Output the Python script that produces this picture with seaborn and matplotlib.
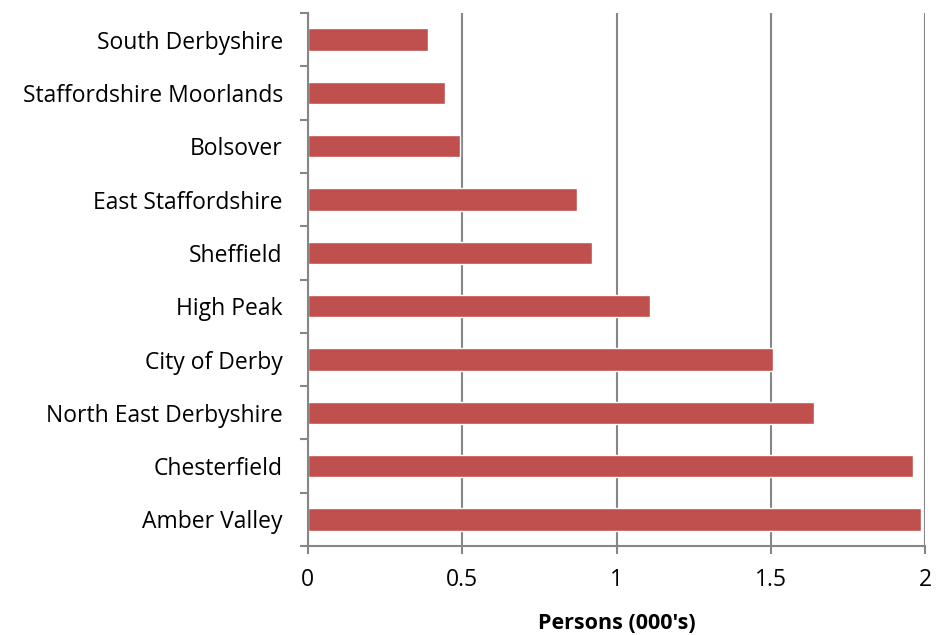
import numpy as np
import pandas as pd
import matplotlib
matplotlib.use('Agg')
import matplotlib.pyplot as plt
import seaborn as sns

# data
districts = ['South Derbyshire', 'Staffordshire Moorlands', 'Bolsover',
             'East Staffordshire', 'Sheffield', 'High Peak', 'City of Derby',
             'North East Derbyshire', 'Chesterfield', 'Amber Valley']
persons = [0.39, 0.445, 0.493, 0.873, 0.922, 1.107, 1.508, 1.638, 1.96, 1.987]
x_ticks = [0, 0.5, 1, 1.5, 2]
x_tick_labels = ['0', '0.5', '1', '1.5', '2']

df = pd.DataFrame({'district': districts, 'persons': persons})

sns.set_style('white', {'xtick.bottom': True, 'ytick.left': True,
                        'text.color': 'black', 'xtick.color': 'black',
                        'ytick.color': 'black', 'axes.labelcolor': 'black'})
plt.rcParams['font.family'] = ['Open Sans', 'DejaVu Sans']

fig = plt.figure(figsize=(9.5, 6.35), dpi=100)
ax = fig.add_axes([0.324, 0.140, 0.650, 0.8395])

sns.barplot(data=df, x='persons', y='district', order=districts,
            color='#C0504D', saturation=1, width=0.42, ax=ax)

ax.set_xlim(0, 2)
ax.set_ylim(len(districts) - 0.5, -0.5)
ax.set_xticks(x_ticks)
ax.set_xticklabels(x_tick_labels, fontsize=16.5)
ax.set_xlabel("Persons (000's)", fontsize=15.5, fontweight='bold', labelpad=15)
ax.set_ylabel('')
ax.tick_params(axis='y', which='major', labelsize=16.5, length=0, pad=18)

# category boundary ticks like Excel
ax.set_yticks(np.arange(-0.5, len(districts)), minor=True)
ax.tick_params(axis='y', which='minor', left=True, length=6, width=1.5,
               color='#868686', direction='out')
ax.tick_params(axis='x', bottom=True, length=6, width=1.5, color='#868686',
               labelcolor='black', direction='out', pad=10)

ax.grid(axis='x', color='#868686', linewidth=1.5)
ax.set_axisbelow(True)
for s in ['top', 'right']:
    ax.spines[s].set_visible(False)
for s in ['left', 'bottom']:
    ax.spines[s].set_color('#868686')
    ax.spines[s].set_linewidth(1.5)

fig.savefig('out.png', dpi=100)
